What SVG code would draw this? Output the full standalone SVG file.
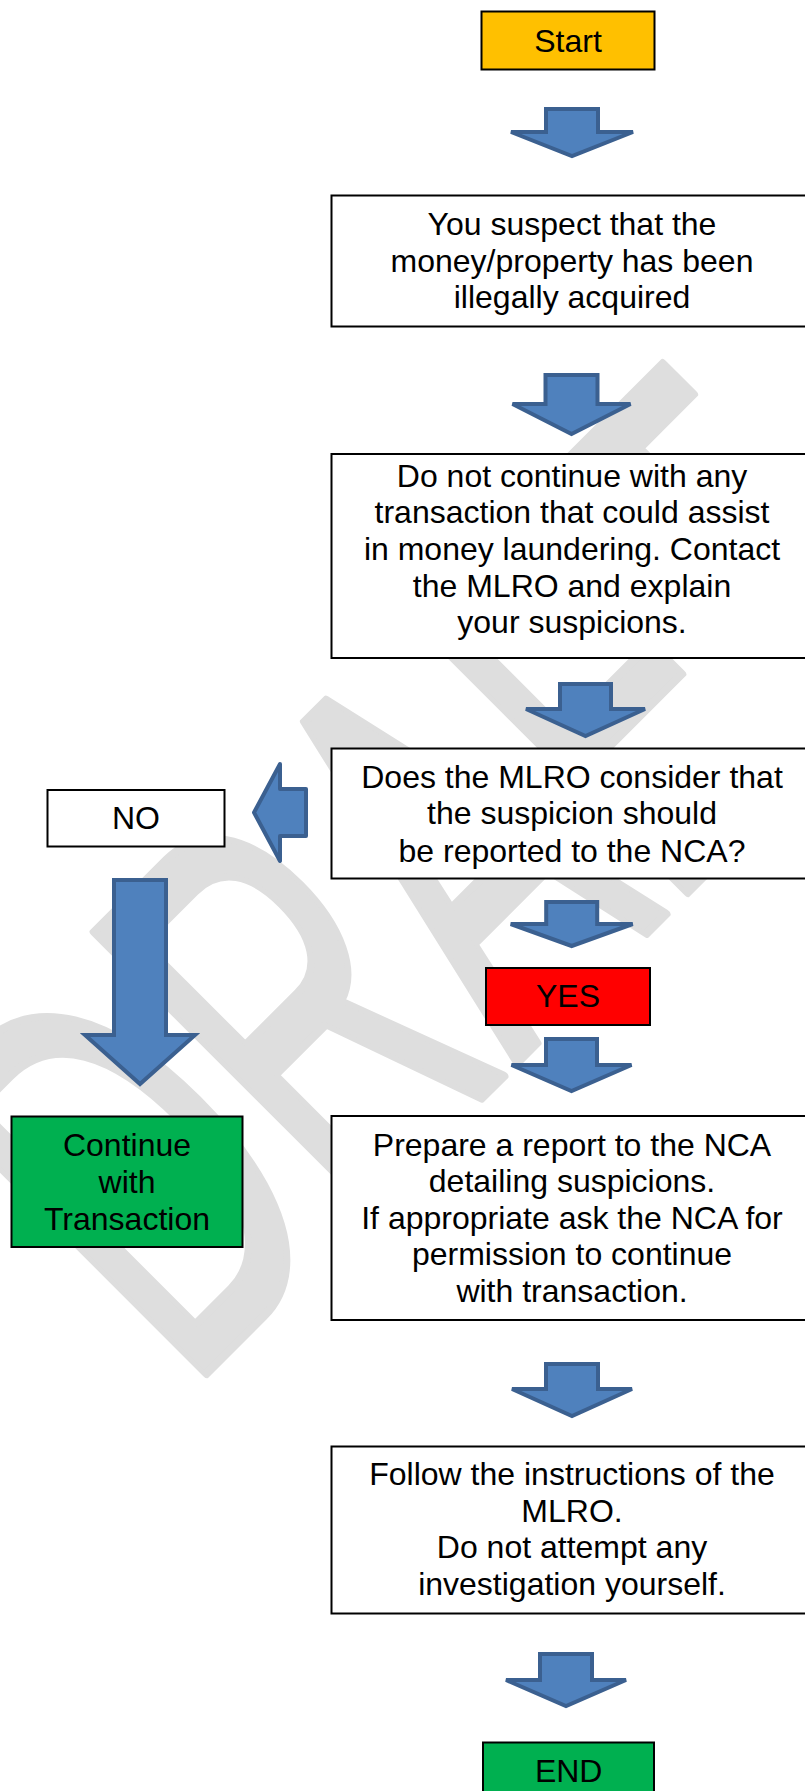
<svg xmlns="http://www.w3.org/2000/svg" width="805" height="1791" viewBox="0 0 805 1791">
<style>
.box{fill:#ffffff;stroke:#000000;stroke-width:2}
.start{fill:#ffc000;stroke:#000000;stroke-width:2}
.yes{fill:#ff0000;stroke:#000000;stroke-width:2}
.green{fill:#00b050;stroke:#000000;stroke-width:2}
.arr{fill:#4f81bd;stroke:#3b6090;stroke-width:4;stroke-linejoin:miter}
.arrl{fill:#4f81bd;stroke:#3b6090;stroke-width:4;stroke-linejoin:round}
.t{font-family:"Liberation Sans",Arial,sans-serif;font-size:32px;fill:#000000;text-anchor:middle}
.wm{font-family:"Liberation Sans",Arial,sans-serif;fill:#dedede;stroke:#dedede;stroke-width:6;stroke-linejoin:round}
</style>
<rect width="805" height="1791" fill="#ffffff"/>
<g id="watermark">
<text class="wm" transform="translate(186.6,1393.4) rotate(-45) scale(1,1.4225)" font-size="400" textLength="1074" lengthAdjust="spacingAndGlyphs">DRAFT</text>
</g>
<g id="connectors">
<polygon class="arr" points="546,109 598,109 598,132 633,132 572,156 511,132 546,132"/>
<polygon class="arr" points="545.5,375 597.5,375 597.5,404 630.5,404 571.5,434 512.5,404 545.5,404"/>
<polygon class="arr" points="560,684 611,684 611,709 645,709 585.5,736 526,709 560,709"/>
<polygon class="arr" points="546.2,902 597.2,902 597.2,924 632.7,924 571.7,946 510.7,924 546.2,924"/>
<polygon class="arr" points="546,1039 597,1039 597,1065 631.5,1065 571.5,1091 511.5,1065 546,1065"/>
<polygon class="arr" points="546,1364 598,1364 598,1389 632,1389 572,1416 512,1389 546,1389"/>
<polygon class="arr" points="540,1654 592,1654 592,1680 626,1680 566,1706 506,1680 540,1680"/>
<polygon class="arr" points="114,880 166,880 166,1035 195,1035 140,1084 85,1035 114,1035"/>
<path class="arrl" d="M306,789 L280,789 L280,764 L254,812.5 L280,861 L280,836 L306,836 Z"/>
</g>
<g id="start">
<rect class="start" x="481.5" y="11.5" width="173" height="58"/>
<text class="t" x="568" y="52">Start</text>
</g>
<g id="suspect">
<rect class="box" x="331.5" y="195.5" width="480" height="131"/>
<text class="t" x="572" y="235">You suspect that the</text>
<text class="t" x="572" y="271.7">money/property has been</text>
<text class="t" x="572" y="308.3">illegally acquired</text>
</g>
<g id="donotcontinue">
<rect class="box" x="331.5" y="454" width="480" height="204"/>
<text class="t" x="572" y="486.7">Do not continue with any</text>
<text class="t" x="572" y="523.3">transaction that could assist</text>
<text class="t" x="572" y="560">in money laundering. Contact</text>
<text class="t" x="572" y="596.7">the MLRO and explain</text>
<text class="t" x="572" y="633.3">your suspicions.</text>
</g>
<g id="question">
<rect class="box" x="331.5" y="748.5" width="480" height="130"/>
<text class="t" x="572" y="787.7">Does the MLRO consider that</text>
<text class="t" x="572" y="824.3">the suspicion should</text>
<text class="t" x="572" y="861.7">be reported to the NCA?</text>
</g>
<g id="no">
<rect class="box" x="47.5" y="790" width="177" height="56.5"/>
<text class="t" x="136" y="829.3">NO</text>
</g>
<g id="yes">
<rect class="yes" x="486" y="968" width="164" height="57"/>
<text class="t" x="568" y="1006.7">YES</text>
</g>
<g id="continue">
<rect class="green" x="11.5" y="1116.5" width="231" height="130.5"/>
<text class="t" x="127" y="1156">Continue</text>
<text class="t" x="127" y="1192.7">with</text>
<text class="t" x="127" y="1230">Transaction</text>
</g>
<g id="prepare">
<rect class="box" x="331.5" y="1116" width="480" height="204"/>
<text class="t" x="572" y="1156">Prepare a report to the NCA</text>
<text class="t" x="572" y="1192">detailing suspicions.</text>
<text class="t" x="572" y="1228.5">If appropriate ask the NCA for</text>
<text class="t" x="572" y="1265">permission to continue</text>
<text class="t" x="572" y="1301.7">with transaction.</text>
</g>
<g id="follow">
<rect class="box" x="331.5" y="1446.5" width="480" height="167"/>
<text class="t" x="572" y="1485">Follow the instructions of the</text>
<text class="t" x="572" y="1521.7">MLRO.</text>
<text class="t" x="572" y="1558.3">Do not attempt any</text>
<text class="t" x="572" y="1595">investigation yourself.</text>
</g>
<g id="end">
<rect class="green" x="483" y="1742.5" width="171" height="60"/>
<text class="t" x="568.7" y="1781.7">END</text>
</g>
</svg>
